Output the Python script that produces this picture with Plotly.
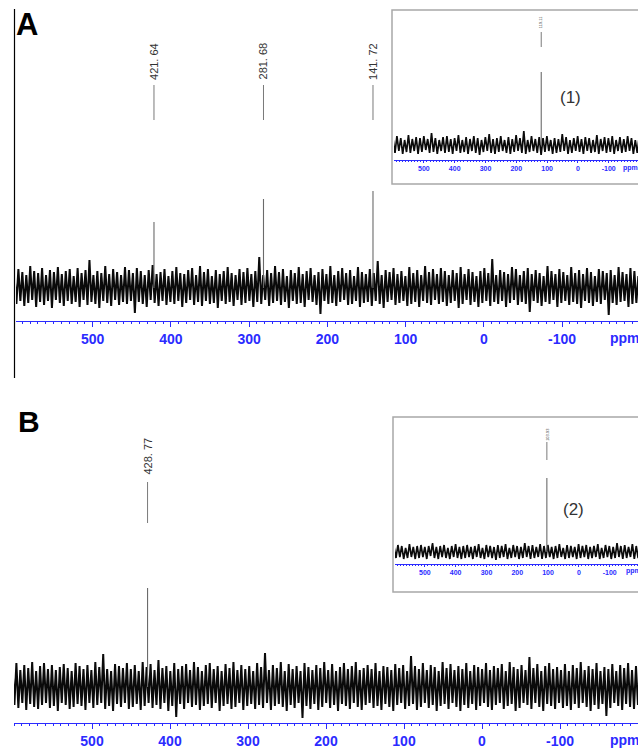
import numpy as np
import plotly.graph_objects as go

W, H = 638, 748

# ---------------- data ----------------
# noise traces alternate between the upper and lower excursion of each
# display column (intensity units, baseline = 0)
NOISE_A = [
    14,-16,19,-13,16,-18,13,-15,22,-12,17,-19,15,-14,20,-17,13,-13,18,-20,
    16,-12,21,-15,14,-18,17,-13,19,-16,12,-14,20,-19,15,-12,18,-17,28,-14,
    13,-16,17,-20,15,-13,22,-15,14,-18,19,-12,16,-17,13,-14,21,-16,18,-13,
    15,-25,20,-14,17,-16,13,-19,18,-12,23,-15,14,-18,16,-13,19,-17,12,-14,
    17,-16,21,-13,15,-19,14,-15,18,-12,20,-17,13,-14,22,-18,16,-13,19,-16,
    12,-15,18,-20,14,-13,17,-16,21,-14,15,-18,13,-12,19,-17,16,-15,20,-13,
    14,-19,17,-14,31,-16,13,-12,18,-18,15,-15,22,-13,16,-17,19,-14,12,-20,
    18,-13,15,-16,21,-15,14,-19,17,-12,20,-14,13,-17,16,-26,19,-13,14,-16,
    22,-15,13,-18,17,-14,20,-12,15,-17,18,-16,12,-13,21,-19,16,-15,14,-14,
    19,-18,15,-13,27,-16,13,-20,18,-14,16,-12,20,-17,14,-15,17,-13,12,-18,
    21,-16,15,-14,18,-19,13,-13,22,-15,16,-17,19,-12,14,-16,20,-14,17,-18,
    13,-15,18,-13,15,-20,21,-16,14,-12,19,-17,16,-14,12,-19,17,-15,20,-13,
    15,-18,29,-14,13,-16,18,-13,16,-19,14,-15,21,-12,19,-17,13,-14,17,-16,
    20,-24,14,-13,18,-15,15,-18,12,-14,22,-16,17,-12,14,-19,19,-15,16,-13,
    13,-17,21,-14,15,-16,18,-20,14,-13,20,-15,16,-18,12,-14,19,-16,17,-12,
    15,-27,18,-15,13,-17,21,-14,16,-13,14,-19,20,-16,17,-15,12,-18,19,-14,
]
NOISE_B = [
    20,-18,24,-21,17,-16,22,-23,19,-17,25,-20,16,-22,21,-18,24,-16,18,-21,
    22,-19,17,-24,20,-16,23,-18,19,-22,16,-20,24,-17,21,-19,18,-23,22,-16,
    17,-21,25,-18,20,-16,33,-22,18,-19,16,-24,23,-17,21,-20,19,-16,24,-22,
    18,-20,22,-17,16,-23,25,-19,20,-16,23,-21,17,-18,27,-22,19,-16,21,-24,
    16,-19,24,-30,18,-17,21,-22,23,-16,17,-20,25,-18,20,-23,16,-19,22,-17,
    24,-21,18,-16,21,-24,16,-19,23,-17,19,-22,25,-20,17,-16,22,-23,18,-19,
    21,-17,16,-22,24,-18,20,-21,34,-16,17,-23,22,-19,19,-17,25,-20,16,-24,
    23,-18,18,-21,21,-16,16,-31,24,-19,20,-22,17,-17,22,-23,19,-20,25,-16,
    17,-21,23,-18,16,-24,20,-17,24,-19,18,-22,21,-16,25,-20,17,-23,19,-18,
    22,-16,18,-21,24,-19,16,-23,21,-17,20,-20,17,-24,23,-18,19,-16,22,-22,
    16,-19,31,-17,21,-23,18,-20,24,-16,17,-21,22,-18,20,-24,16,-19,25,-17,
    19,-22,23,-16,17,-20,21,-24,18,-18,24,-21,16,-17,22,-23,20,-19,18,-16,
    24,-20,17,-23,21,-18,19,-16,23,-22,16,-19,25,-17,20,-24,18,-21,22,-16,
    17,-18,30,-22,19,-16,23,-20,16,-24,21,-17,24,-19,18,-22,20,-16,17,-21,
    23,-19,16,-23,22,-17,19,-21,25,-16,17,-20,21,-24,18,-18,24,-22,16,-17,
    20,-29,18,-21,23,-16,16,-19,22,-23,19,-17,24,-20,17,-22,21,-18,25,-16,
]
NOISE_INSET_1 = [
    6,-8,9,-6,7,-9,5,-7,10,-8,6,-6,8,-9,7,-7,9,-5,6,-8,
    12,-7,7,-9,5,-6,8,-8,9,-7,6,-9,7,-6,10,-8,5,-7,8,-9,
    6,-6,9,-8,7,-10,5,-7,8,-6,11,-8,6,-9,7,-7,9,-6,5,-8,
    8,-9,6,-7,10,-6,7,-8,14,-9,5,-7,9,-6,6,-8,8,-10,7,-7,
    9,-6,5,-9,7,-8,6,-7,11,-6,8,-9,5,-8,7,-6,9,-7,6,-9,
    8,-6,7,-8,5,-7,10,-9,6,-6,8,-8,7,-7,9,-9,5,-6,8,-8,
    6,-7,9,-6,7,-9,5,-8,8,-7,
]
NOISE_INSET_2 = [
    5,-6,7,-5,6,-7,4,-6,8,-5,5,-7,6,-6,7,-5,5,-7,6,-4,
    9,-6,5,-7,6,-5,7,-6,4,-7,6,-5,8,-6,5,-7,6,-6,7,-5,
    5,-7,6,-5,8,-6,4,-7,7,-5,6,-6,5,-8,7,-6,6,-5,8,-7,
    4,-6,7,-5,6,-7,5,-6,9,-5,6,-7,7,-6,5,-5,8,-7,6,-6,
    7,-5,5,-7,6,-6,8,-5,4,-7,7,-6,6,-5,5,-7,8,-6,6,-5,
    7,-7,5,-6,6,-5,8,-7,4,-6,7,-5,6,-7,5,-6,9,-5,6,-7,
    7,-6,5,-5,8,-7,6,-6,4,-5,
]

SPAN_A = [600, -205]          # ppm extent of each recorded spectrum
SPAN_B = [602, -205]
SPAN_INSET = [600, -205]

PEAKS_A = [421.64, 281.68, 141.72]
HEIGHTS_A = [66, 89, 97]
LABELS_A = ["421. 64", "281. 68", "141. 72"]

PEAKS_B = [428.77]
HEIGHTS_B = [99]
LABELS_B = ["428. 77"]

PEAKS_INSET_1 = [119.11]
HEIGHTS_INSET_1 = [73]
LABELS_INSET_1 = ["119.11"]

PEAKS_INSET_2 = [103.93]
HEIGHTS_INSET_2 = [74]
LABELS_INSET_2 = ["103.93"]

TICK_VALS = [500, 400, 300, 200, 100, 0, -100]
TICK_TEXT = ["500", "400", "300", "200", "100", "0", "-100"]
UNIT = "ppm"
PANEL_LETTERS = ["A", "B"]
INSET_NAMES = ["(1)", "(2)"]

BLUE = "#2b2bff"
FONT = "Liberation Sans, Arial, sans-serif"


def fx(px):
    return px / W


def fy(px):
    return 1 - px / H


panels = [
    # main A
    dict(noise=NOISE_A, span=SPAN_A, peaks=PEAKS_A, heights=HEIGHTS_A, labels=LABELS_A,
         xdom=[fx(16), 1], xr=[598, -197], ydom=[fy(321), fy(10)], yr=[-33, 278],
         lab_line=[168, 203], lab_y=227, lab_size=11, tick_size=14, ticklen=5, minorlen=2,
         unit_pos=(625, 338), lw=2.0),
    # inset 1
    dict(noise=NOISE_INSET_1, span=SPAN_INSET, peaks=PEAKS_INSET_1, heights=HEIGHTS_INSET_1,
         labels=LABELS_INSET_1,
         xdom=[fx(394), 1], xr=[597, -195], ydom=[fy(160), fy(20)], yr=[-15, 125],
         lab_line=[98, 113], lab_y=123, lab_size=4, tick_size=7, ticklen=2, minorlen=1,
         unit_pos=(630, 168), lw=1.7),
    # main B
    dict(noise=NOISE_B, span=SPAN_B, peaks=PEAKS_B, heights=HEIGHTS_B, labels=LABELS_B,
         xdom=[fx(14), 1], xr=[600, -200], ydom=[fy(723), fy(400)], yr=[-36, 287],
         lab_line=[164, 205], lab_y=231, lab_size=11, tick_size=14, ticklen=5, minorlen=2,
         unit_pos=(625, 740), lw=2.0),
    # inset 2
    dict(noise=NOISE_INSET_2, span=SPAN_INSET, peaks=PEAKS_INSET_2, heights=HEIGHTS_INSET_2,
         labels=LABELS_INSET_2,
         xdom=[fx(395), 1], xr=[597, -192], ydom=[fy(564), fy(425)], yr=[-12, 127],
         lab_line=[92, 110], lab_y=118, lab_size=4, tick_size=7, ticklen=2, minorlen=1,
         unit_pos=(633, 571), lw=1.7),
]

fig = go.Figure()
annotations = []
shapes = []
layout = {}

for i, p in enumerate(panels):
    k = "" if i == 0 else str(i + 1)
    xa, ya = "x" + k, "y" + k
    xs = np.linspace(p["span"][0], p["span"][1], len(p["noise"]))
    fig.add_trace(go.Scatter(x=xs, y=p["noise"], mode="lines", xaxis=xa, yaxis=ya,
                             line=dict(color="#0a0a0a", width=p["lw"]),
                             hoverinfo="skip", showlegend=False))
    px_, py_ = [], []
    for pk, h in zip(p["peaks"], p["heights"]):
        px_ += [pk, pk, None]
        py_ += [0, h, None]
    fig.add_trace(go.Scatter(x=px_, y=py_, mode="lines", xaxis=xa, yaxis=ya,
                             line=dict(color="#6a6a6a", width=1.1),
                             hoverinfo="skip", showlegend=False))
    for pk, lab in zip(p["peaks"], p["labels"]):
        shapes.append(dict(type="line", xref=xa, yref=ya, x0=pk, x1=pk,
                           y0=p["lab_line"][0], y1=p["lab_line"][1],
                           line=dict(color="#7a7a7a", width=1)))
        annotations.append(dict(x=pk, y=p["lab_y"], xref=xa, yref=ya, text=lab,
                                textangle=-90, showarrow=False,
                                font=dict(family=FONT, size=p["lab_size"], color="#333333"),
                                xanchor="center", yanchor="middle"))
    layout["xaxis" + k] = dict(
        domain=p["xdom"], range=p["xr"], anchor=ya,
        showline=True, linecolor=BLUE, linewidth=1,
        ticks="outside", tickcolor=BLUE, ticklen=p["ticklen"], tickwidth=1,
        tickvals=TICK_VALS, ticktext=TICK_TEXT,
        tickfont=dict(family=FONT, size=p["tick_size"], color=BLUE, weight="bold"),
        minor=dict(dtick=10, tick0=0, ticks="outside", ticklen=p["minorlen"],
                   tickcolor=BLUE, tickwidth=1, showgrid=False),
        showgrid=False, zeroline=False, fixedrange=True,
    )
    layout["yaxis" + k] = dict(domain=p["ydom"], range=p["yr"], anchor=xa, visible=False,
                               fixedrange=True)
    annotations.append(dict(x=fx(p["unit_pos"][0]), y=fy(p["unit_pos"][1]), xref="paper",
                            yref="paper", text=UNIT, showarrow=False,
                            font=dict(family=FONT, size=p["tick_size"], color=BLUE,
                                      weight="bold"),
                            xanchor="center", yanchor="middle"))

# inset frames
shapes.append(dict(type="rect", xref="paper", yref="paper", x0=fx(392), x1=fx(645),
                   y0=fy(184), y1=fy(10), line=dict(color="#a8a8a8", width=1.5),
                   layer="below"))
shapes.append(dict(type="rect", xref="paper", yref="paper", x0=fx(393), x1=fx(645),
                   y0=fy(592), y1=fy(417), line=dict(color="#a8a8a8", width=1.5),
                   layer="below"))
# left frame line of panel A
shapes.append(dict(type="line", xref="paper", yref="paper", x0=fx(14.5), x1=fx(14.5),
                   y0=fy(378), y1=fy(9), line=dict(color="#000000", width=1.2)))

# panel letters
annotations.append(dict(x=fx(14), y=fy(24), xref="paper", yref="paper",
                        text="<b>" + PANEL_LETTERS[0] + "</b>", showarrow=False,
                        font=dict(family=FONT, size=31, color="#000000"),
                        xanchor="left", yanchor="middle"))
annotations.append(dict(x=fx(16), y=fy(421), xref="paper", yref="paper",
                        text="<b>" + PANEL_LETTERS[1] + "</b>", showarrow=False,
                        font=dict(family=FONT, size=30, color="#000000"),
                        xanchor="left", yanchor="middle"))
# inset names
annotations.append(dict(x=fx(570), y=fy(98), xref="paper", yref="paper",
                        text=INSET_NAMES[0], showarrow=False,
                        font=dict(family=FONT, size=17, color="#333333"),
                        xanchor="center", yanchor="middle"))
annotations.append(dict(x=fx(573), y=fy(509), xref="paper", yref="paper",
                        text=INSET_NAMES[1], showarrow=False,
                        font=dict(family=FONT, size=17, color="#333333"),
                        xanchor="center", yanchor="middle"))

fig.update_layout(
    width=W, height=H,
    margin=dict(l=0, r=0, t=0, b=0),
    paper_bgcolor="white", plot_bgcolor="rgba(0,0,0,0)",
    showlegend=False,
    annotations=annotations, shapes=shapes,
    **layout,
)

fig.write_html("out.html", config={"displayModeBar": False},
               post_script="document.body.style.margin='0px';"
                           "document.body.style.overflow='hidden';")
